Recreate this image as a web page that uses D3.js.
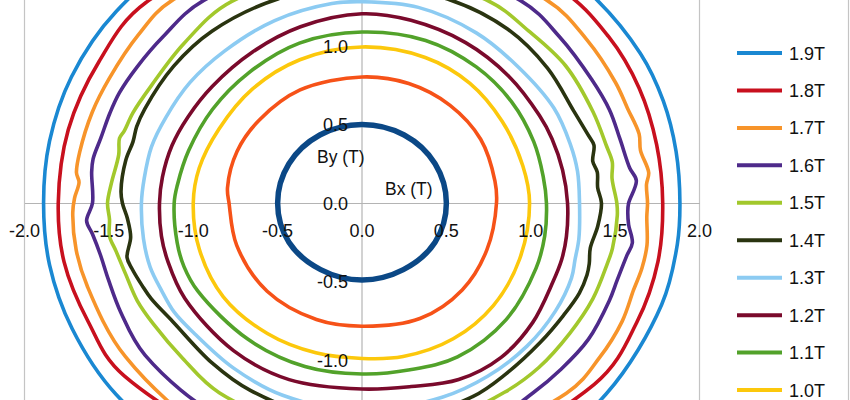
<!DOCTYPE html>
<html><head><meta charset="utf-8">
<script src="https://cdn.jsdelivr.net/npm/d3@7/dist/d3.min.js"></script>
<style>
body{margin:0;background:#fff}
svg{display:block;font-family:"Liberation Sans",Arial,sans-serif}
</style>
</head><body>
<svg id="chart" width="850" height="400"></svg>
<script>
// ---- data (each point: [angle in degrees, |B| radius in T]) ----
const seriesNames = ["1.9T","1.8T","1.7T","1.6T","1.5T","1.4T","1.3T","1.2T","1.1T","1.0T","0.8T","0.5T"];
const seriesColors = ["#1a88d2","#c8101e","#f7942a","#4e2a8a","#a2c82c","#2a3410","#8ccbf2","#7a0a2c","#52a22a","#fcc80c","#f65218","#0b4886"];
const xTicks = [-2.0,-1.5,-1.0,-0.5,0.0,0.5,1.0,1.5,2.0];
const yTicks = [-1.0,-0.5,0.0,0.5,1.0];
const legendShown = 10; // entries visible in the cropped view

const b19 = [[0,1.884],[10,1.89],[20,1.9],[30,1.905],[45,1.9],[60,1.9],[90,1.9],[120,1.9],[140,1.9],[155,1.9],[168,1.893],[180,1.887],[192,1.893],[205,1.895],[220,1.9],[240,1.9],[270,1.9],[300,1.9],[320,1.89],[340,1.89],[352,1.887]];
const b18 = [[0,1.782],[12,1.785],[24,1.798],[36,1.805],[50,1.795],[90,1.8],[135,1.808],[150,1.8],[165,1.802],[180,1.8],[192,1.805],[205,1.79],[218,1.788],[270,1.8],[320,1.797],[335,1.797],[348,1.793]];
const b17 = [[0,1.692],[4,1.69],[6.5,1.71],[11.5,1.684],[15,1.7],[21,1.685],[27,1.687],[38,1.69],[50,1.693],[90,1.7],[131,1.712],[141,1.704],[152,1.695],[160,1.7],[169,1.704],[173.5,1.703],[175.5,1.682],[179,1.704],[182,1.715],[190,1.72],[198,1.712],[215,1.71],[240,1.71],[270,1.71],[315,1.713],[325,1.718],[334,1.716],[341,1.702],[346,1.71],[351,1.71],[357,1.69]];
const b16 = [[0,1.58],[5,1.632],[8,1.602],[15,1.582],[22,1.582],[30,1.572],[42,1.578],[54,1.595],[90,1.6],[126,1.595],[138,1.585],[147,1.59],[154,1.6],[159,1.6],[165,1.602],[170,1.618],[173,1.614],[180,1.597],[184,1.636],[187,1.61],[192,1.585],[198,1.58],[206,1.59],[217,1.61],[240,1.6],[270,1.59],[300,1.58],[310,1.578],[318,1.585],[327,1.598],[337,1.592],[342,1.59],[348,1.605],[351,1.622],[355,1.586],[358,1.576]];
const b15 = [[0,1.51],[6,1.49],[10,1.506],[14,1.494],[23,1.487],[36,1.49],[48,1.475],[60,1.489],[90,1.485],[121,1.498],[136,1.465],[149,1.455],[157,1.474],[162,1.482],[164,1.495],[168,1.474],[175,1.49],[180,1.508],[184,1.5],[188,1.511],[192,1.489],[198,1.472],[205,1.47],[212,1.457],[223,1.452],[235,1.475],[260,1.48],[285,1.475],[305,1.472],[315,1.482],[326,1.485],[336,1.498],[345,1.504],[349,1.512],[357,1.515]];
const b14 = [[0,1.419],[4,1.40],[8,1.408],[11,1.393],[15,1.423],[18,1.408],[25,1.385],[38,1.395],[52,1.404],[68,1.395],[90,1.39],[111,1.392],[129,1.41],[142,1.416],[155,1.42],[160,1.421],[164,1.412],[169,1.426],[177,1.43],[180,1.42],[184,1.394],[189,1.388],[194,1.435],[197,1.426],[202,1.405],[206,1.39],[214,1.352],[229,1.352],[241,1.365],[260,1.38],[280,1.39],[298,1.397],[308,1.383],[320,1.38],[329,1.392],[336,1.41],[341,1.41],[344,1.401],[348,1.383],[354,1.405]];
const b13 = [[0,1.289],[9,1.293],[17,1.29],[28,1.288],[43,1.268],[58,1.278],[75,1.29],[90,1.282],[98,1.283],[114,1.272],[130,1.265],[143,1.276],[155,1.284],[164,1.298],[173,1.3],[180,1.307],[190,1.315],[198,1.32],[205,1.312],[212,1.312],[220,1.295],[234,1.298],[249,1.312],[270,1.322],[291,1.325],[304,1.331],[317,1.337],[329,1.337],[339,1.33],[344,1.313],[350,1.305]];
const b12 = [[0,1.218],[10,1.207],[20,1.198],[28,1.19],[43,1.187],[59,1.192],[76,1.199],[90,1.205],[108,1.18],[124,1.16],[140,1.157],[152,1.168],[162,1.184],[172,1.194],[180,1.2],[190,1.207],[198,1.209],[210,1.213],[231,1.21],[249,1.205],[270,1.185],[284,1.205],[297,1.262],[310,1.283],[323,1.266],[336,1.238],[343,1.237],[350,1.23]];
const b11 = [[0,1.093],[9,1.087],[21,1.09],[36,1.096],[52,1.1],[70,1.102],[90,1.089],[110,1.084],[129,1.067],[146,1.068],[162,1.08],[174,1.1],[180,1.113],[193,1.124],[201,1.13],[210,1.123],[232,1.1],[252,1.095],[270,1.089],[285,1.1],[300,1.132],[319,1.132],[338,1.112],[349,1.103]];
const b10 = [[0,0.993],[14,0.982],[32,0.98],[50,0.995],[68,1.0],[90,0.994],[112,0.984],[132,0.974],[151,0.97],[167,0.99],[180,1.0],[197,1.008],[216,1.016],[236,1.003],[254,0.993],[270,0.99],[284,1.008],[302,1.02],[320,1.016],[339,1.0]];
const b08 = [[0,0.797],[10,0.80],[30,0.812],[50,0.812],[70,0.81],[90,0.803],[117,0.808],[139,0.806],[156,0.81],[173,0.803],[180,0.788],[200,0.79],[225,0.795],[250,0.79],[270,0.785],[295,0.812],[317,0.812],[338,0.798]];
const b05 = [[0,0.50],[30,0.50],[60,0.50],[90,0.50],[120,0.50],[150,0.50],[180,0.50],[210,0.50],[240,0.49],[270,0.49],[300,0.49],[330,0.50]];
const seriesData = [b19,b18,b17,b16,b15,b14,b13,b12,b11,b10,b08,b05];

// ---- drawing ----
const svg = d3.select("#chart");
const x = d3.scaleLinear().domain([-2, 2]).range([24.5, 699.5]);
const y = d3.scaleLinear().domain([-2, 2]).range([517, -111]);
const rad = Math.PI / 180;

svg.append("defs").append("clipPath").attr("id","plotclip")
  .append("rect").attr("x", x(-2)).attr("y", y(2)).attr("width", x(2)-x(-2)).attr("height", y(-2)-y(2));

// plot area borders
svg.append("line").attr("x1", x(-2)).attr("x2", x(-2)).attr("y1", y(2)).attr("y2", y(-2))
  .attr("stroke", "#c4c4c4").attr("stroke-width", 1.2);
svg.append("line").attr("x1", x(2)).attr("x2", x(2)).attr("y1", y(2)).attr("y2", y(-2))
  .attr("stroke", "#c4c4c4").attr("stroke-width", 1.2);
// chart area right border
svg.append("line").attr("x1", 848.5).attr("x2", 848.5).attr("y1", 0).attr("y2", 400)
  .attr("stroke", "#c4c4c4").attr("stroke-width", 1.2);

// axes lines (through origin)
const xAxis = d3.axisBottom(x).tickValues(xTicks).tickSize(0).tickFormat(d => d.toFixed(1));
const yAxis = d3.axisLeft(y).tickValues(yTicks).tickSize(0).tickFormat(d => d.toFixed(1));

const gx = svg.append("g").attr("transform", `translate(0,${y(0)})`).call(xAxis);
const gy = svg.append("g").attr("transform", `translate(${x(0)},0)`).call(yAxis);
[gx, gy].forEach(g => {
  g.select(".domain").attr("stroke", "#b4b4b4").attr("stroke-width", 1.2);
  g.selectAll("text").remove();
});
gy.select(".domain").attr("d", `M0,${y(2)}V${y(-2)}`);

// curves
const line = d3.line()
  .x(d => x(d[1] * Math.cos(d[0] * rad)))
  .y(d => y(d[1] * Math.sin(d[0] * rad)))
  .curve(d3.curveCatmullRomClosed.alpha(0.5));

const gc = svg.append("g").attr("clip-path", "url(#plotclip)");
gc.selectAll("path").data(seriesData).join("path")
  .attr("d", d => line(d))
  .attr("fill", "none")
  .attr("stroke", (d, i) => seriesColors[i])
  .attr("stroke-width", (d, i) => i === seriesData.length - 1 ? 5.5 : 3.6)
  .attr("stroke-linejoin", "round");

// tick labels (drawn on top of curves)
const fs = 18;
svg.append("g").selectAll("text").data(xTicks).join("text")
  .attr("x", d => x(d)).attr("y", y(0) + 34)
  .attr("text-anchor", "middle").attr("font-size", fs).attr("fill", "#111")
  .text(d => d.toFixed(1));
svg.append("g").selectAll("text").data(yTicks).join("text")
  .attr("x", x(0) - 14).attr("y", d => y(d) + 6.5)
  .attr("text-anchor", "end").attr("font-size", fs).attr("fill", "#111")
  .text(d => d.toFixed(1));

// axis titles
svg.append("text").attr("x", 317).attr("y", 163).attr("font-size", 17.5).attr("fill", "#111").text("By (T)");
svg.append("text").attr("x", 385).attr("y", 195).attr("font-size", 17.5).attr("fill", "#111").text("Bx (T)");

// legend
const lg = svg.append("g");
const rowY = i => 53 + i * 37.45;
seriesNames.slice(0, legendShown).forEach((name, i) => {
  lg.append("line").attr("x1", 737).attr("x2", 782).attr("y1", rowY(i)).attr("y2", rowY(i))
    .attr("stroke", seriesColors[i]).attr("stroke-width", 4);
  lg.append("text").attr("x", 789).attr("y", rowY(i) + 6.5).attr("font-size", fs).attr("fill", "#111").text(name);
});
</script>
</body></html>
